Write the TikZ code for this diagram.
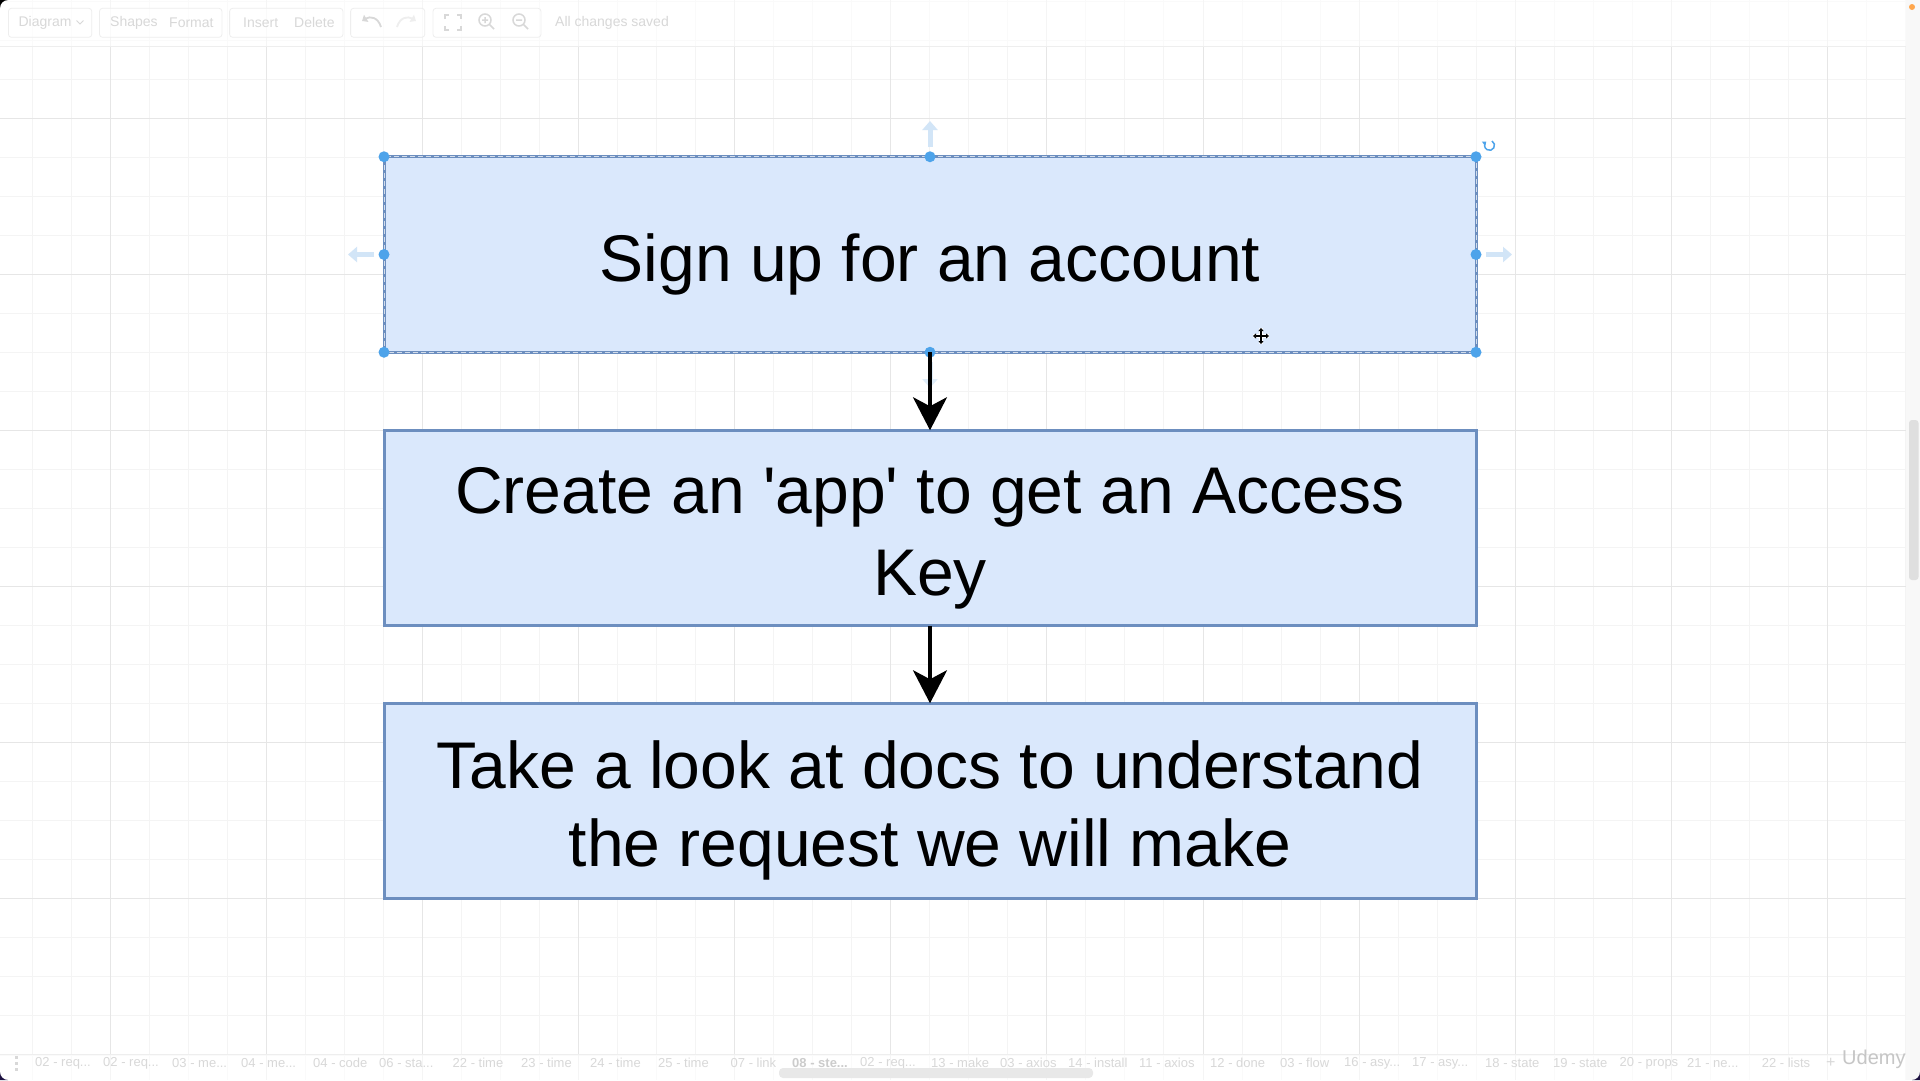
\documentclass[tikz,border=0pt]{standalone}
\usepackage{fontspec}
\setmainfont{Liberation Sans}
\usetikzlibrary{arrows.meta}
\definecolor{boxfill}{HTML}{DAE8FC}
\definecolor{boxline}{HTML}{6C8EBF}
\definecolor{gridminor}{HTML}{F4F4F4}
\definecolor{gridmajor}{HTML}{E6E6E6}
\definecolor{uitext}{HTML}{D8D8D8}
\definecolor{uiline}{HTML}{EEEEEE}
\definecolor{handleblue}{HTML}{4DA3EA}
\definecolor{hoverblue}{HTML}{D2E5F7}
\definecolor{panelgray}{HTML}{F8F8F8}
\definecolor{cornernavy}{HTML}{1C1040}
\newcommand\mystrut{\rule[-11pt]{0pt}{78pt}}
\tikzset{
  stepbox/.style={draw=boxline, fill=boxfill, line width=3pt, minimum width=1092pt,
    minimum height=195.5pt, inner sep=0pt, outer sep=0pt, align=center,
    font=\fontsize{66}{78}\selectfont},
  conn/.style={line width=3.5pt, -{Stealth[length=33pt,width=34pt,inset=9pt]}},
  gmin/.style={draw=gridminor, line width=1pt},
  gmaj/.style={draw=gridmajor, line width=1pt},
  uilabel/.style={text=uitext, font=\fontsize{14}{16}\selectfont, anchor=west, inner sep=0pt},
  tablabel/.style={text=uitext, font=\fontsize{13}{15}\selectfont, anchor=west, inner sep=0pt},
  uigroup/.style={draw=uiline, fill=white, fill opacity=0.5, rounded corners=3pt, line width=0.8pt},
  handle/.style={fill=handleblue},
  hover/.style={draw=hoverblue, line width=5pt, -{Triangle[length=9pt,width=15pt]}},
  uiicon/.style={draw=uitext, line width=1.8pt},
}
\begin{document}
\begin{tikzpicture}[x=1pt,y=-1pt]
\useasboundingbox (0,0) rectangle (1920,1080);
\fill[white] (0,0) rectangle (1920,1080);
% grid
\foreach \k in {0,...,48} \draw[gmin] ({32.1+39.03*\k},0) -- ({32.1+39.03*\k},1080);
\foreach \k in {0,...,27} \draw[gmin] (0,{1.2+39.03*\k}) -- (1906,{1.2+39.03*\k});
\foreach \k in {0,...,11} \draw[gmaj] ({110.2+156.12*\k},0) -- ({110.2+156.12*\k},1080);
\foreach \k in {0,...,5} \draw[gmaj] (0,{118.3+156.12*\k}) -- (1906,{118.3+156.12*\k});
% toolbar
\fill[white, opacity=0.6] (0,0) rectangle (1906,46);
\draw[uiline, line width=1pt] (0,46.5) -- (1906,46.5);
\draw[uigroup] (8.4,8.3) rectangle (91.8,37.3);
\draw[uigroup] (99.5,8.3) rectangle (222,37.3);
\draw[uigroup] (229.6,8.3) rectangle (343,37.3);
\draw[uigroup] (350.6,8.3) rectangle (424.8,37.3);
\draw[uigroup] (433,8.3) rectangle (541,37.3);
\node[uilabel] (tDiagram) at (18.4,22.5) {Diagram};
\draw[uiicon, line width=1pt] (76.5,20.5) -- (80,24) -- (83.5,20.5);
\node[uilabel] (tShapes) at (110,22.5) {Shapes};
\node[uilabel] (tFormat) at (169,22.5) {Format};
\node[uilabel] (tInsert) at (243,22.5) {Insert};
\node[uilabel] (tDelete) at (294,22.5) {Delete};
\draw[uiicon, -{Triangle[length=5pt,width=8pt]}] (381,27) .. controls (378,17) and (370,16) .. (362,21);
\draw[uiicon, draw=uiline, -{Triangle[length=5pt,width=8pt]}] (397,27) .. controls (400,17) and (408,16) .. (416,21);
\draw[uiicon, line width=1.5pt] (445,19) -- (445,15) -- (449,15) (457,15) -- (461,15) -- (461,19)
  (461,26) -- (461,30) -- (457,30) (449,30) -- (445,30) -- (445,26);
\draw[uiicon, line width=1.5pt] (485,20) circle (6) (489.5,24.5) -- (494,29) (482,20) -- (488,20) (485,17) -- (485,23);
\draw[uiicon, line width=1.5pt] (519,20) circle (6) (523.5,24.5) -- (528,29) (516,20) -- (522,20);
\node[uilabel] (tSaved) at (555,22.5) {All changes saved};
% right panel
\fill[panelgray] (1906,0) rectangle (1920,1080);
\fill[gray!25, rounded corners=3pt] (1909,420) rectangle (1918.5,580);
\fill[orange!70] (1912,7) circle (3);
% bottom tab bar
\fill[white, opacity=0.6] (0,1054) rectangle (1906,1080);
\draw[uiline, line width=1pt] (0,1054) -- (1906,1054);
\foreach \yy in {1056,1062,1068} \fill[uitext] (15,\yy) rectangle (18,\yy+3);
\node[tablabel] (tab1) at (35,1063) {02 - req...};
\node[tablabel] (tab2) at (103,1063) {02 - req...};
\node[tablabel] (tab3) at (172,1063) {03 - me...};
\node[tablabel] (tab4) at (241,1063) {04 - me...};
\node[tablabel] (tab5) at (313,1063) {04 - code};
\node[tablabel] (tab6) at (379,1063) {06 - sta...};
\node[tablabel] (tab7) at (452.5,1063) {22 - time};
\node[tablabel] (tab8) at (521,1063) {23 - time};
\node[tablabel] (tab9) at (590,1063) {24 - time};
\node[tablabel] (tab10) at (658,1063) {25 - time};
\node[tablabel] (tab11) at (730.5,1063) {07 - link};
\node[tablabel, font=\fontsize{13}{15}\selectfont\bfseries, text=gray!40] (tab12) at (792,1063) {08 - ste...};
\node[tablabel] (tab13) at (860,1063) {02 - req...};
\node[tablabel] (tab14) at (931,1063) {13 - make};
\node[tablabel] (tab15) at (1000,1063) {03 - axios};
\node[tablabel] (tab16) at (1068,1063) {14 - install};
\node[tablabel] (tab17) at (1139,1063) {11 - axios};
\node[tablabel] (tab18) at (1210,1063) {12 - done};
\node[tablabel] (tab19) at (1280,1063) {03 - flow};
\node[tablabel] (tab20) at (1344,1063) {16 - asy...};
\node[tablabel] (tab21) at (1412,1063) {17 - asy...};
\node[tablabel] (tab22) at (1485,1063) {18 - state};
\node[tablabel] (tab23) at (1553,1063) {19 - state};
\node[tablabel] (tab24) at (1619.5,1063) {20 - props};
\node[tablabel] (tab25) at (1687,1063) {21 - ne...};
\node[tablabel] (tab26) at (1761.6,1063) {22 - lists};
\node[tablabel, font=\fontsize{16}{18}\selectfont] (tabplus) at (1826,1063) {+};
\fill[gray!18, rounded corners=4pt] (779,1068) rectangle (1093,1078);
\node[anchor=west, inner sep=0pt, text=gray!45, font=\fontsize{20}{22}\selectfont] (udemy) at (1842,1059) {Udemy};
% screen corners
\fill[black] (0,0) -- (0,8) arc[start angle=180,end angle=270,radius=8] -- cycle;
\fill[cornernavy] (0,1080) -- (0,1072) arc[start angle=180,end angle=90,radius=8] -- cycle;
\fill[cornernavy] (1920,1080) -- (1920,1072) arc[start angle=0,end angle=90,radius=8] -- cycle;
% diagram
\node[stepbox] (b1) at (930,254.5) {\mystrut Sign up for an account};
\node[stepbox] (b2) at (930,528) {\mystrut Create an \textquotesingle app\textquotesingle{} to get an Access\\\mystrut Key};
\node[stepbox] (b3) at (930,801) {\mystrut Take a look at docs to understand\\\mystrut the request we will make};
% selection overlay on b1
\draw[white, opacity=0.7, line width=0.8pt, dash pattern=on 5pt off 3pt] (b1.north west) rectangle (b1.south east);
\draw[hover] (930,147) -- (930,121);
\draw[hover] (374,254.5) -- (348,254.5);
\draw[hover] (1486,254.5) -- (1512,254.5);
\draw[hover, draw=hoverblue!70] (930,362) -- (930,388);
\foreach \p in {b1.north west, b1.north, b1.north east, b1.west, b1.east, b1.south west, b1.south, b1.south east}
  \fill[handle] (\p) circle (5.5);
\draw[handleblue, line width=1.5pt, -{Triangle[length=3.5pt,width=5pt]}] (1492,141) arc[start angle=-60,end angle=230,radius=5];
% move cursor
\draw[white, line width=3.5pt] (1253,336) -- (1269,336) (1261,328) -- (1261,344);
\draw[black, line width=1.3pt, {Triangle[length=3pt,width=5pt]}-{Triangle[length=3pt,width=5pt]}] (1253,336) -- (1269,336);
\draw[black, line width=1.3pt, {Triangle[length=3pt,width=5pt]}-{Triangle[length=3pt,width=5pt]}] (1261,328) -- (1261,344);
% connectors
\draw[conn] (b1.south) -- (b2.north);
\draw[conn] (b2.south) -- (b3.north);
\end{tikzpicture}
\end{document}
